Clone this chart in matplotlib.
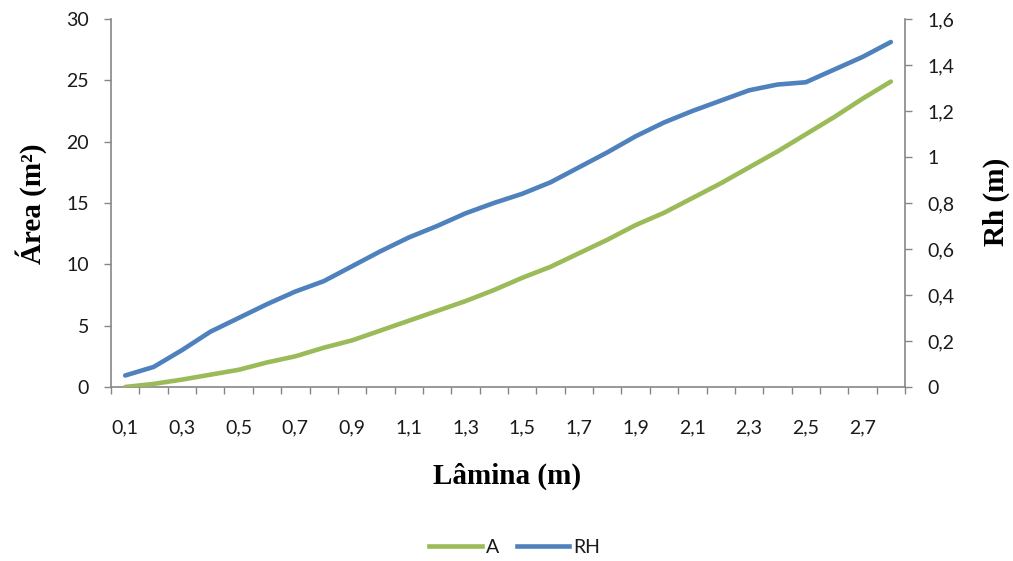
import numpy as np
import matplotlib
matplotlib.use("Agg")
import matplotlib.pyplot as plt
from matplotlib.ticker import FixedLocator, FixedFormatter, FuncFormatter
from matplotlib.lines import Line2D

# Water depth (m) and the corresponding flow area and hydraulic radius
lamina = [0.1, 0.2, 0.3, 0.4, 0.5, 0.6, 0.7, 0.8, 0.9, 1.0, 1.1, 1.2, 1.3, 1.4,
          1.5, 1.6, 1.7, 1.8, 1.9, 2.0, 2.1, 2.2, 2.3, 2.4, 2.5, 2.6, 2.7, 2.8]
area = [0.0, 0.25, 0.6, 1.0, 1.4, 2.0, 2.5, 3.2, 3.8, 4.6, 5.4, 6.2, 7.0, 7.9,
        8.9, 9.8, 10.9, 12.0, 13.2, 14.2, 15.4, 16.6, 17.9, 19.2, 20.6, 22.0, 23.5, 24.9]
rh = [0.05, 0.087, 0.16, 0.24, 0.30, 0.36, 0.415, 0.46, 0.525, 0.59, 0.65, 0.70,
      0.755, 0.80, 0.84, 0.89, 0.955, 1.02, 1.09, 1.15, 1.20, 1.245, 1.29, 1.315,
      1.325, 1.38, 1.435, 1.50]

GREEN = "#9BBB59"
BLUE = "#4F81BD"
AXIS = "#868686"
TICKFONT = "Lato"
TITLEFONT = "Liberation Serif"

fig = plt.figure(figsize=(10.13, 5.61), dpi=100)
ax = fig.add_axes([0.1096, 0.3102, 0.7838, 0.6559])
ax2 = ax.twinx()

x = np.arange(len(lamina))
ax.plot(x, area, color=GREEN, lw=3.3, solid_capstyle="round", zorder=3)
ax2.plot(x, rh, color=BLUE, lw=3.3, solid_capstyle="round", zorder=3)

ax.set_xlim(-0.5, len(lamina) - 0.5)
ax.set_ylim(0, 30)
ax2.set_ylim(0, 1.6)
ax.set_yticks(np.arange(0, 31, 5))
ax2.set_yticks(np.arange(0, 1.61, 0.2))
ax2.yaxis.set_major_formatter(FuncFormatter(
    lambda v, p: "0" if abs(v) < 1e-9 else ("1" if abs(v - 1) < 1e-9 else f"{v:.1f}".replace(".", ","))))

# category boundaries carry the tick marks, every other category gets a label
ax.xaxis.set_major_locator(FixedLocator(np.arange(-0.5, len(lamina), 1.0)))
ax.xaxis.set_major_formatter(FixedFormatter([]))
lab_idx = x[::2]
ax.xaxis.set_minor_locator(FixedLocator(lab_idx))
ax.xaxis.set_minor_formatter(FixedFormatter([f"{lamina[i]:.1f}".replace(".", ",") for i in lab_idx]))
ax.tick_params(axis="x", which="major", length=5, width=1, color=AXIS, direction="out")
ax.tick_params(axis="x", which="minor", length=0, pad=23, labelsize=14)
ax.tick_params(axis="y", length=5, width=1, color=AXIS, pad=11, labelsize=14)
ax2.tick_params(axis="y", length=5, width=1, color=AXIS, pad=11, labelsize=14)

for a in (ax, ax2):
    for s in a.spines.values():
        s.set_visible(False)
ax.spines["left"].set_visible(True)
ax.spines["bottom"].set_visible(True)
ax2.spines["right"].set_visible(True)
for s in (ax.spines["left"], ax.spines["bottom"], ax2.spines["right"]):
    s.set_color(AXIS)
    s.set_linewidth(1.2)

for lbl in ax.get_xticklabels(minor=True) + ax.get_yticklabels() + ax2.get_yticklabels():
    lbl.set_fontfamily(TICKFONT)
    lbl.set_color("#1a1a1a")

fig.text(0.031, 0.636, "Área (m²)", rotation=90, ha="center", va="center",
         fontfamily=TITLEFONT, fontweight="bold", fontsize=21)
fig.text(0.984, 0.64, "Rh (m)", rotation=90, ha="center", va="center",
         fontfamily=TITLEFONT, fontweight="bold", fontsize=21)
fig.text(0.501, 0.151, "Lâmina (m)", ha="center", va="center",
         fontfamily=TITLEFONT, fontweight="bold", fontsize=21)

handles = [Line2D([], [], color=GREEN, lw=3.3), Line2D([], [], color=BLUE, lw=3.3)]
leg = fig.legend(handles, ["A", "RH"], loc="center", bbox_to_anchor=(0.508, 0.024),
                 ncol=2, frameon=False, handlelength=2.7, handletextpad=0.2,
                 columnspacing=0.9, prop={"family": TICKFONT, "size": 14})
for t in leg.get_texts():
    t.set_color("#1a1a1a")

fig.savefig("out.png", dpi=100, facecolor="white")
